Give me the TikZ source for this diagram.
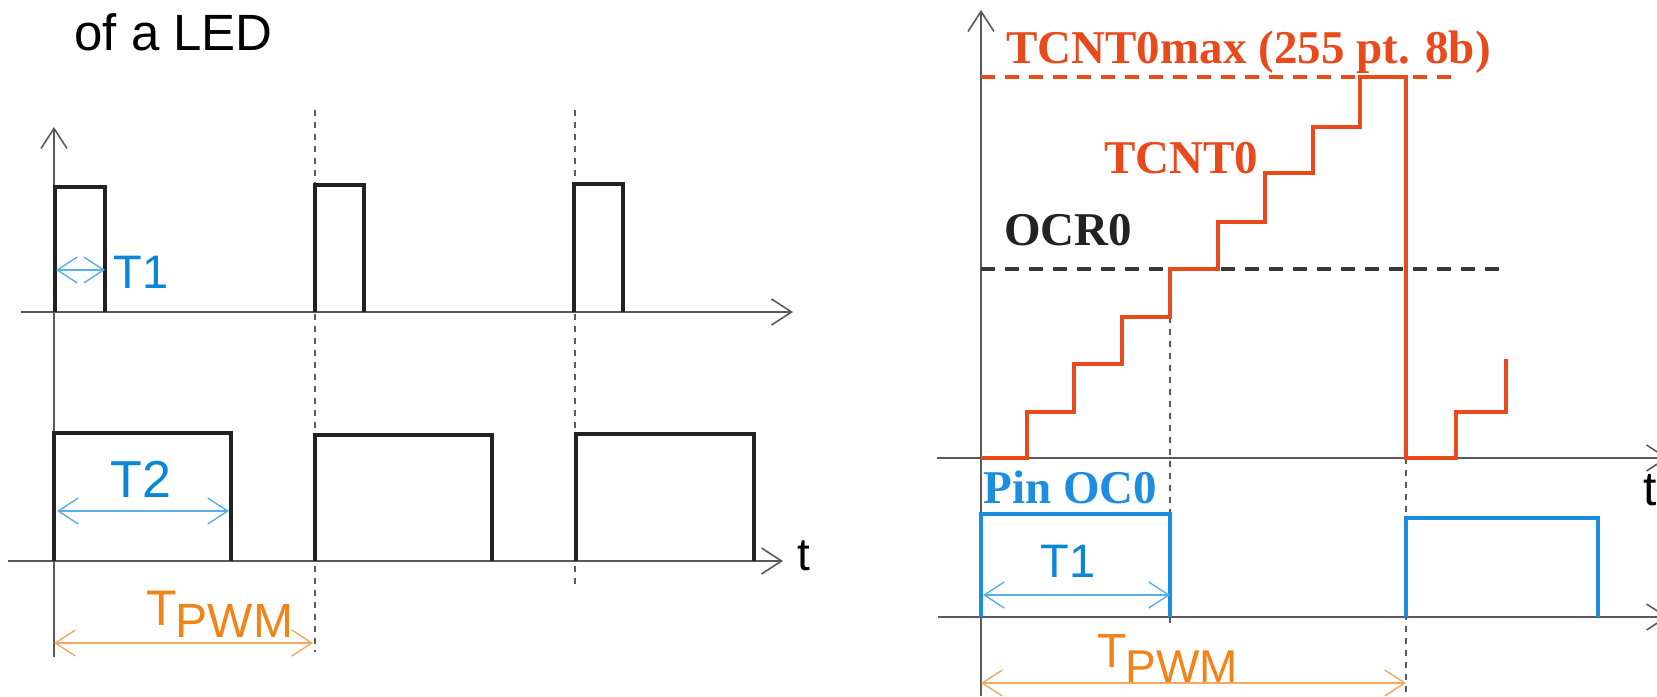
\documentclass[tikz,border=0pt]{standalone}
\usepackage{fontspec}
\setmainfont{Liberation Serif}
\setsansfont{Liberation Sans}
\usetikzlibrary{arrows.meta}
\definecolor{axisgray}{HTML}{5A5A5A}
\definecolor{pulseblack}{HTML}{222222}
\definecolor{lblblue}{HTML}{0A86D8}
\definecolor{arrblue}{HTML}{5AAEEA}
\definecolor{lblorange}{HTML}{F08418}
\definecolor{arrorange}{HTML}{F6A860}
\definecolor{cntred}{HTML}{E84A1C}
\definecolor{pinblue}{HTML}{1C8EE0}
\newcommand{\fsz}[1]{\fontsize{#1}{#1}\selectfont}
\begin{document}
\begin{tikzpicture}[x=0.5pt,y=-0.5pt,
  axisline/.style={draw=axisgray, line width=0.8pt, -{Straight Barb[length=10pt,width=13pt]}},
  pulse/.style={draw=pulseblack, line width=2.1pt, line join=miter},
  guide/.style={draw=axisgray, line width=0.6pt, dash pattern=on 3pt off 3pt},
  dimblue/.style={draw=arrblue, line width=0.7pt, {Straight Barb[length=10pt,width=13pt]}-{Straight Barb[length=10pt,width=13pt]}},
  dimorange/.style={draw=arrorange, line width=0.7pt, {Straight Barb[length=10pt,width=13pt]}-{Straight Barb[length=10pt,width=13pt]}},
  counter/.style={draw=cntred, line width=2pt, line join=miter},
  pinwave/.style={draw=pinblue, line width=1.8pt, line join=miter},
  levelline/.style={line width=2pt, dash pattern=on 7pt off 5pt},
  lbl/.style={inner sep=0pt, anchor=base west},
  sanslbl/.style={inner sep=0pt, font=\sffamily\fsz{23.5pt}, text=lblblue},
  serlbl/.style={inner sep=0pt, anchor=base west, font=\bfseries\fsz{23.5pt}}
]
\useasboundingbox (0,0) rectangle (1657,696);

% ---------------- left panel ----------------
\node[lbl, font=\sffamily\fsz{25.5pt}] (title) at (74,50) {of a LED};

% guides
\coordinate (g1t) at (315,110); \coordinate (g1b) at (315,652);
\coordinate (g2t) at (575,110); \coordinate (g2b) at (575,585);
\draw[guide] (g1t) -- (g1b);
\draw[guide] (g2t) -- (g2b);

% axes
\coordinate (lyb) at (54,657); \coordinate (lyt) at (54,127);
\draw[axisline] (lyb) -- (lyt);
\coordinate (a1s) at (21,312); \coordinate (a1e) at (793,312);
\draw[axisline] (a1s) -- (a1e);
\coordinate (a2s) at (8,561); \coordinate (a2e) at (783,561);
\draw[axisline] (a2s) -- (a2e);
\node[lbl, font=\sffamily\fsz{23pt}] (tl) at (797,570) {t};

% row 1 pulses
\draw[pulse] (55,312) -- (55,187) -- (105,187) -- (105,312);
\draw[pulse] (315,312) -- (315,185) -- (364,185) -- (364,312);
\draw[pulse] (574,312) -- (574,184) -- (623,184) -- (623,312);

% row 2 pulses
\draw[pulse] (54,561) -- (54,433) -- (231,433) -- (231,561);
\draw[pulse] (315,561) -- (315,435) -- (492,435) -- (492,561);
\draw[pulse] (576,561) -- (576,434) -- (754,434) -- (754,561);

% dimensions
\coordinate (t1a) at (56,270); \coordinate (t1b) at (105,270);
\draw[dimblue] (t1a) -- (t1b);
\node[sanslbl, anchor=base west] (t1l) at (113,288) {T1};

\coordinate (t2a) at (57,511); \coordinate (t2b) at (229,511);
\draw[dimblue] (t2a) -- (t2b);
\node[sanslbl, anchor=base, font=\sffamily\fsz{26pt}] (t2l) at (141,497) {T2};

\coordinate (pa) at (54,643); \coordinate (pb) at (313,643);
\draw[dimorange] (pa) -- (pb);
\node[lbl, text=lblorange, font=\sffamily\fsz{25pt}] (tpwml) at (146,625)
  {T\kern-0.5pt\raisebox{-6pt}{\fsz{24pt}PWM}};

% ---------------- right panel ----------------
% guides
\coordinate (g3t) at (1170,317); \coordinate (g3b) at (1170,628);
\coordinate (g4t) at (1406,458); \coordinate (g4b) at (1406,696);
\draw[guide] (g3t) -- (g3b);
\draw[guide] (g4t) -- (g4b);

% axes
\coordinate (ryb) at (981,696); \coordinate (ryt) at (981,10);
\draw[axisline] (ryb) -- (ryt);
\coordinate (a3s) at (937,458); \coordinate (a3e) at (1668,458);
\draw[axisline] (a3s) -- (a3e);
\coordinate (a4s) at (938,617); \coordinate (a4e) at (1668,617);
\draw[axisline] (a4s) -- (a4e);
\node[lbl, font=\sffamily\fsz{24pt}] (tr) at (1643,505) {t};

% level lines
\coordinate (maxa) at (981,77); \coordinate (maxb) at (1458,77);
\draw[levelline, draw=cntred] (maxa) -- (maxb);
\coordinate (ocra) at (981,269); \coordinate (ocrb) at (1502,269);
\draw[levelline, draw=pulseblack!90] (ocra) -- (ocrb);

% counter staircase
\draw[counter] (981,458) -- (1027,458) -- (1027,412) -- (1074,412) -- (1074,364)
  -- (1122,364) -- (1122,317) -- (1170,317) -- (1170,269) -- (1218,269)
  -- (1218,222) -- (1265,222) -- (1265,173) -- (1313,173) -- (1313,127)
  -- (1360,127) -- (1360,77) -- (1406,77) -- (1406,458) -- (1456,458)
  -- (1456,412) -- (1506,412) -- (1506,359);

% pin waveform
\draw[pinwave] (981,617) -- (981,514) -- (1170,514) -- (1170,617);
\draw[pinwave] (1406,617) -- (1406,518) -- (1598,518) -- (1598,617);

% labels
\node[serlbl, text=cntred] (maxl) at (1006,63) {TCNT0max (255 pt. 8b)};
\node[serlbl, text=cntred] (cntl) at (1104,173) {TCNT0};
\node[serlbl, text=pulseblack] (ocrl) at (1004,245) {OCR0};
\node[serlbl, text=pinblue] (pinl) at (983,503) {Pin OC0};

% dimensions
\coordinate (t3a) at (983,595); \coordinate (t3b) at (1170,595);
\draw[dimblue] (t3a) -- (t3b);
\node[sanslbl, anchor=base] (t3l) at (1068,577) {T1};

\coordinate (pc) at (981,683); \coordinate (pd) at (1406,683);
\draw[dimorange] (pc) -- (pd);
\node[lbl, text=lblorange, font=\sffamily\fsz{24pt}] (tpwmr) at (1097,667)
  {T\kern-0.5pt\raisebox{-7.5pt}{\fsz{23pt}PWM}};
\end{tikzpicture}
\end{document}
